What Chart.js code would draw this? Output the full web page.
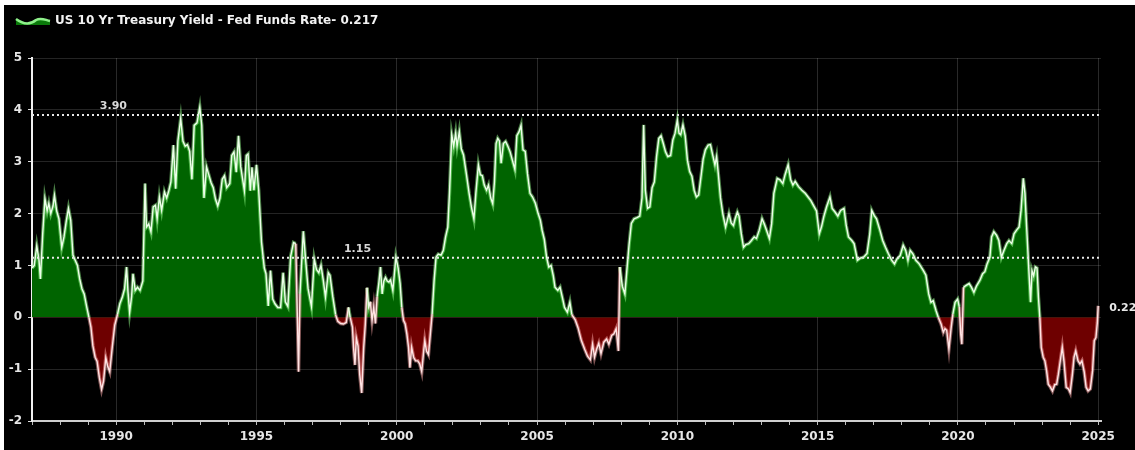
<!DOCTYPE html>
<html>
<head>
<meta charset="utf-8">
<script src="https://cdn.jsdelivr.net/npm/chart.js@4.4.1/dist/chart.umd.min.js"></script>
<style>
  html, body { margin: 0; padding: 0; background: #ffffff; }
  #wrap { position: absolute; left: 4px; top: 5px; width: 1131px; height: 445px; background: #000; }
  canvas { display: block; }
</style>
</head>
<body>
<div id="wrap"><canvas id="c" width="1131" height="445"></canvas></div>
<script>
// ---- data (decimal year, spread in %) ----
const titleText = "US 10 Yr Treasury Yield - Fed Funds Rate- 0.217";
const dates = [
1987.00,1987.08,1987.17,1987.25,1987.30,1987.38,1987.46,1987.54,1987.60,1987.67,1987.75,1987.80,1987.88,1987.96,
1988.06,1988.14,1988.22,1988.30,1988.38,1988.46,1988.54,1988.62,1988.70,1988.78,1988.86,1988.95,
1989.03,1989.10,1989.17,1989.25,1989.32,1989.40,1989.48,1989.55,1989.63,1989.70,1989.77,1989.86,1989.95,
1990.05,1990.13,1990.22,1990.30,1990.37,1990.42,1990.48,1990.55,1990.60,1990.68,1990.76,1990.85,1990.95,
1991.03,1991.08,1991.16,1991.24,1991.32,1991.40,1991.46,1991.54,1991.62,1991.72,1991.80,1991.88,1991.95,
1992.04,1992.12,1992.20,1992.30,1992.38,1992.46,1992.54,1992.62,1992.70,1992.78,1992.88,1992.98,
1993.05,1993.13,1993.22,1993.30,1993.38,1993.46,1993.54,1993.62,1993.70,1993.78,1993.86,1993.94,
1994.05,1994.12,1994.20,1994.28,1994.36,1994.44,1994.57,1994.64,1994.70,1994.78,1994.84,1994.91,
1995.00,1995.08,1995.18,1995.28,1995.34,1995.42,1995.50,1995.58,1995.66,1995.76,1995.86,1995.95,
1996.03,1996.12,1996.22,1996.32,1996.40,1996.46,1996.50,1996.55,1996.67,1996.75,1996.84,1996.96,
1997.06,1997.14,1997.22,1997.30,1997.38,1997.46,1997.56,1997.62,1997.72,1997.82,1997.90,
1998.00,1998.10,1998.20,1998.28,1998.34,1998.42,1998.46,1998.51,1998.56,1998.62,1998.68,1998.75,1998.82,1998.88,1998.94,
1999.00,1999.06,1999.12,1999.18,1999.24,1999.30,1999.36,1999.42,1999.48,1999.54,1999.60,1999.66,1999.72,1999.78,1999.86,1999.97,
2000.05,2000.12,2000.18,2000.24,2000.30,2000.36,2000.42,2000.47,2000.53,2000.60,2000.67,2000.75,2000.82,2000.89,2000.96,
2001.00,2001.06,2001.13,2001.20,2001.26,2001.33,2001.40,2001.48,2001.58,2001.66,2001.74,2001.82,2001.88,2001.96,
2002.03,2002.10,2002.15,2002.23,2002.30,2002.38,2002.48,2002.58,2002.66,2002.75,2002.82,2002.91,2002.98,
2003.05,2003.12,2003.20,2003.27,2003.35,2003.42,2003.48,2003.54,2003.60,2003.66,2003.72,2003.80,2003.88,2003.96,
2004.04,2004.12,2004.21,2004.28,2004.36,2004.43,2004.50,2004.58,2004.66,2004.75,2004.84,2004.94,
2005.04,2005.12,2005.18,2005.26,2005.34,2005.42,2005.50,2005.58,2005.64,2005.74,2005.82,2005.90,2005.98,
2006.08,2006.17,2006.24,2006.36,2006.46,2006.58,2006.70,2006.80,2006.90,2006.98,
2007.05,2007.12,2007.20,2007.28,2007.38,2007.48,2007.56,2007.66,2007.74,2007.82,2007.90,2007.95,
2008.04,2008.13,2008.20,2008.28,2008.36,2008.46,2008.56,2008.66,2008.74,2008.80,2008.86,2008.94,
2009.02,2009.10,2009.18,2009.26,2009.34,2009.42,2009.50,2009.58,2009.66,2009.76,2009.84,2009.92,
2010.00,2010.06,2010.12,2010.20,2010.28,2010.36,2010.44,2010.52,2010.60,2010.68,2010.76,2010.84,2010.92,
2011.00,2011.10,2011.18,2011.26,2011.34,2011.40,2011.46,2011.54,2011.62,2011.72,2011.78,2011.84,2011.92,
2012.00,2012.06,2012.14,2012.20,2012.28,2012.36,2012.44,2012.54,2012.64,2012.74,2012.82,2012.92,
2013.02,2013.10,2013.18,2013.28,2013.36,2013.44,2013.56,2013.66,2013.76,2013.84,2013.95,
2014.04,2014.12,2014.20,2014.32,2014.44,2014.56,2014.66,2014.76,2014.86,2014.96,
2015.06,2015.14,2015.22,2015.32,2015.44,2015.52,2015.62,2015.72,2015.82,2015.94,
2016.02,2016.10,2016.22,2016.30,2016.42,2016.52,2016.64,2016.76,2016.86,2016.93,
2017.02,2017.10,2017.22,2017.32,2017.42,2017.52,2017.64,2017.74,2017.82,2017.94,
2018.05,2018.14,2018.22,2018.30,2018.40,2018.50,2018.62,2018.77,2018.86,2018.96,
2019.04,2019.12,2019.22,2019.30,2019.40,2019.48,2019.54,2019.60,2019.68,2019.76,2019.82,2019.90,2019.99,
2020.05,2020.10,2020.14,2020.20,2020.28,2020.40,2020.48,2020.57,2020.66,2020.78,2020.88,2020.96,
2021.04,2021.14,2021.20,2021.28,2021.38,2021.46,2021.55,2021.64,2021.74,2021.82,2021.92,
2022.00,2022.09,2022.18,2022.25,2022.33,2022.39,2022.45,2022.53,2022.59,2022.64,2022.70,2022.76,2022.82,2022.87,2022.92,2022.97,
2023.04,2023.10,2023.16,2023.22,2023.30,2023.37,2023.45,2023.52,2023.58,2023.66,2023.72,2023.78,2023.86,2023.94,
2024.00,2024.08,2024.14,2024.20,2024.28,2024.35,2024.42,2024.50,2024.57,2024.64,2024.72,2024.80,2024.86,2024.92,2024.97,
2025.00
];
const spread = [
0.95,1.00,1.38,1.10,0.74,1.60,2.29,2.05,2.20,2.00,2.15,2.35,2.05,1.90,
1.35,1.55,1.85,2.10,1.87,1.20,1.10,1.00,0.74,0.55,0.45,0.20,
0.00,-0.19,-0.55,-0.77,-0.85,-1.16,-1.39,-1.23,-0.78,-0.95,-1.05,-0.58,-0.15,
0.06,0.26,0.39,0.55,0.97,0.50,0.10,0.40,0.84,0.52,0.58,0.52,0.70,
2.58,1.74,1.80,1.65,2.13,2.16,1.90,2.32,2.06,2.42,2.30,2.45,2.61,
3.32,2.48,3.40,3.83,3.40,3.30,3.33,3.20,2.66,3.70,3.75,4.05,
3.70,2.30,2.90,2.75,2.60,2.50,2.28,2.15,2.30,2.66,2.73,2.50,
2.58,3.12,3.19,2.80,3.50,2.90,2.44,3.12,3.15,2.44,2.89,2.45,
2.94,2.45,1.45,0.95,0.84,0.22,0.90,0.35,0.26,0.19,0.19,0.86,
0.30,0.21,1.18,1.44,1.42,-0.05,-1.05,0.45,1.66,1.12,0.55,0.21,
1.12,0.92,0.86,1.00,0.72,0.39,0.86,0.81,0.40,0.05,-0.08,
-0.12,-0.13,-0.10,0.19,0.00,-0.19,-0.58,-0.92,-0.40,-0.55,-1.10,-1.46,-0.60,-0.13,0.57,
0.20,0.30,-0.06,0.20,-0.12,0.40,0.65,0.97,0.45,0.70,0.77,0.70,0.68,0.72,0.52,1.16,
0.95,0.65,0.19,-0.06,-0.13,-0.32,-0.58,-0.97,-0.58,-0.77,-0.84,-0.84,-0.90,-1.05,-0.65,
-0.45,-0.65,-0.72,-0.30,0.06,0.70,1.16,1.22,1.20,1.29,1.55,1.74,2.40,3.52,
3.30,3.55,3.30,3.58,3.25,3.13,2.77,2.39,2.13,1.90,2.40,2.94,2.75,
2.73,2.55,2.45,2.55,2.30,2.19,2.60,3.35,3.45,3.40,2.97,3.35,3.39,3.30,
3.19,3.03,2.85,3.50,3.58,3.70,3.23,3.20,2.77,2.39,2.32,2.20,
2.00,1.87,1.68,1.50,1.16,0.97,1.00,0.80,0.58,0.52,0.58,0.39,0.19,
0.10,0.29,0.05,-0.05,-0.20,-0.45,-0.62,-0.75,-0.82,-0.52,
-0.77,-0.62,-0.50,-0.70,-0.48,-0.42,-0.52,-0.35,-0.32,-0.22,-0.65,0.97,
0.60,0.45,0.90,1.40,1.81,1.90,1.92,1.95,2.30,3.71,2.45,2.10,
2.13,2.50,2.61,3.10,3.45,3.50,3.35,3.19,3.10,3.12,3.42,3.55,
3.80,3.55,3.52,3.71,3.50,3.03,2.81,2.72,2.45,2.32,2.36,2.70,3.05,
3.23,3.32,3.33,3.13,2.94,3.10,2.77,2.30,2.00,1.74,1.87,2.00,1.82,
1.77,1.90,2.03,1.95,1.61,1.35,1.40,1.42,1.48,1.55,1.52,1.68,
1.90,1.80,1.68,1.52,1.80,2.39,2.68,2.65,2.58,2.75,2.94,
2.65,2.55,2.62,2.52,2.45,2.39,2.32,2.25,2.15,2.05,
1.61,1.75,1.94,2.13,2.32,2.10,2.03,1.95,2.06,2.10,
1.77,1.55,1.48,1.42,1.10,1.14,1.16,1.23,1.61,2.06,
1.96,1.90,1.68,1.48,1.35,1.23,1.10,1.03,1.12,1.19,
1.39,1.29,1.10,1.29,1.22,1.10,1.03,0.90,0.81,0.45,
0.29,0.32,0.13,0.00,-0.13,-0.29,-0.22,-0.25,-0.61,-0.20,0.06,0.29,0.35,
0.20,-0.32,-0.52,0.58,0.61,0.65,0.58,0.48,0.60,0.71,0.84,0.88,
1.03,1.16,1.55,1.65,1.58,1.48,1.16,1.29,1.42,1.48,1.42,
1.61,1.68,1.74,2.06,2.68,2.39,1.74,0.90,0.29,0.90,0.80,0.97,0.95,0.39,0.00,-0.58,
-0.77,-0.84,-1.03,-1.29,-1.35,-1.42,-1.30,-1.29,-1.10,-0.80,-0.58,-0.85,-1.35,-1.38,
-1.45,-1.10,-0.77,-0.65,-0.84,-0.90,-0.84,-1.05,-1.35,-1.42,-1.38,-1.03,-0.45,-0.39,-0.10,
0.22
];
const refLevels = [3.90, 1.15];
const refLabelYears = [1989.9, 1998.6];
const yTicks = [-2, -1, 0, 1, 2, 3, 4, 5];
const xLabelYears = [1990, 1995, 2000, 2005, 2010, 2015, 2020, 2025];

// ---- chart ----
const points = dates.map((d, i) => ({ x: d, y: spread[i] }));
const X_MIN = 1987, X_MAX = 2025.1;
const refDatasets = refLevels.map(v => ({
  data: [{ x: X_MIN, y: v }, { x: X_MAX, y: v }],
  borderColor: '#e6e6e6', borderWidth: 2, borderDash: [2, 3],
  pointRadius: 0, fill: false, order: 0
}));

const FONT = "'DejaVu Sans', sans-serif";
const lineCol = ctx => ((ctx.p0.parsed.y < 0 || ctx.p1.parsed.y < 0) ? 'rgba(255,170,170,0.5)' : 'rgba(150,255,140,0.5)');
const coreCol = ctx => ((ctx.p0.parsed.y < 0 || ctx.p1.parsed.y < 0) ? '#ffe4e4' : '#ecffe8');

const overlay = {
  id: 'overlay',
  afterDatasetsDraw(chart) {
    const c = chart.ctx, xs = chart.scales.x, ys = chart.scales.y;
    c.save();
    // reference level labels
    c.font = "bold 11px " + FONT;
    c.fillStyle = '#d8d8d8';
    c.textAlign = 'center';
    c.textBaseline = 'bottom';
    refLevels.forEach((v, i) => {
      c.fillText(v.toFixed(2), xs.getPixelForValue(refLabelYears[i]), ys.getPixelForValue(v) - 3);
    });
    // last value label
    const lx = xs.getPixelForValue(dates[dates.length - 1]);
    const ly = ys.getPixelForValue(spread[spread.length - 1]);
    c.textAlign = 'left';
    c.textBaseline = 'middle';
    c.fillStyle = '#e8e8e8';
    c.fillText(spread[spread.length - 1].toFixed(2), lx + 11, ly + 2);
    // legend icon
    c.beginPath();
    c.moveTo(12, 14);
    c.bezierCurveTo(20, 20, 26, 20, 32, 15);
    c.bezierCurveTo(37, 12, 41, 15, 46, 16);
    c.lineTo(46, 20);
    c.lineTo(12, 20);
    c.closePath();
    c.fillStyle = '#0a7a0a';
    c.fill();
    c.beginPath();
    c.moveTo(12, 14);
    c.bezierCurveTo(20, 20, 26, 20, 32, 15);
    c.bezierCurveTo(37, 12, 41, 15, 46, 16);
    c.strokeStyle = '#8ef08a';
    c.lineWidth = 2.5;
    c.stroke();
    // legend text
    c.font = "bold 12px " + FONT;
    c.fillStyle = '#f2f2f2';
    c.textAlign = 'left';
    c.textBaseline = 'middle';
    c.fillText(titleText, 51, 16);
    c.restore();
  }
};

new Chart(document.getElementById('c'), {
  type: 'line',
  data: {
    datasets: [
      {
        data: points,
        fill: { target: 'origin', above: '#006400', below: '#6e0000' },
        borderWidth: 3.5,
        segment: { borderColor: lineCol },
        pointRadius: 0, tension: 0, order: 3
      },
      {
        data: points,
        fill: false,
        borderWidth: 1.4,
        segment: { borderColor: coreCol },
        pointRadius: 0, tension: 0, order: 2
      },
      ...refDatasets
    ]
  },
  options: {
    responsive: false,
    animation: false,
    devicePixelRatio: 1,
    layout: { padding: { top: 53, right: 34, left: 0, bottom: 0 } },
    plugins: { legend: { display: false }, tooltip: { enabled: false } },
    scales: {
      x: {
        type: 'linear', min: X_MIN, max: X_MAX,
        afterFit: s => { s.height = 29; },
        border: { display: true, color: '#cfcfcf', width: 2 },
        grid: {
          color: ctx => (ctx.tick && xLabelYears.includes(ctx.tick.value)) ? 'rgba(255,255,255,0.16)' : 'rgba(0,0,0,0)',
          tickColor: '#bdbdbd', tickLength: 4, lineWidth: 1
        },
        ticks: {
          stepSize: 1, includeBounds: false, autoSkip: false, maxRotation: 0,
          color: '#e6e6e6', font: { family: FONT, size: 12, weight: 'bold' }, padding: 5,
          callback: v => xLabelYears.includes(v) ? String(v) : ''
        }
      },
      y: {
        min: yTicks[0], max: yTicks[yTicks.length - 1],
        afterFit: s => { s.width = 28; },
        border: { display: true, color: '#f0f0f0', width: 2 },
        grid: { color: 'rgba(255,255,255,0.14)', tickColor: '#dddddd', tickLength: 4 },
        ticks: {
          stepSize: 1, color: '#e6e6e6', padding: 6,
          font: { family: FONT, size: 12, weight: 'bold' }
        },
        afterBuildTicks: s => { s.ticks = yTicks.map(v => ({ value: v })); }
      }
    }
  },
  plugins: [overlay]
});
</script>
</body>
</html>
